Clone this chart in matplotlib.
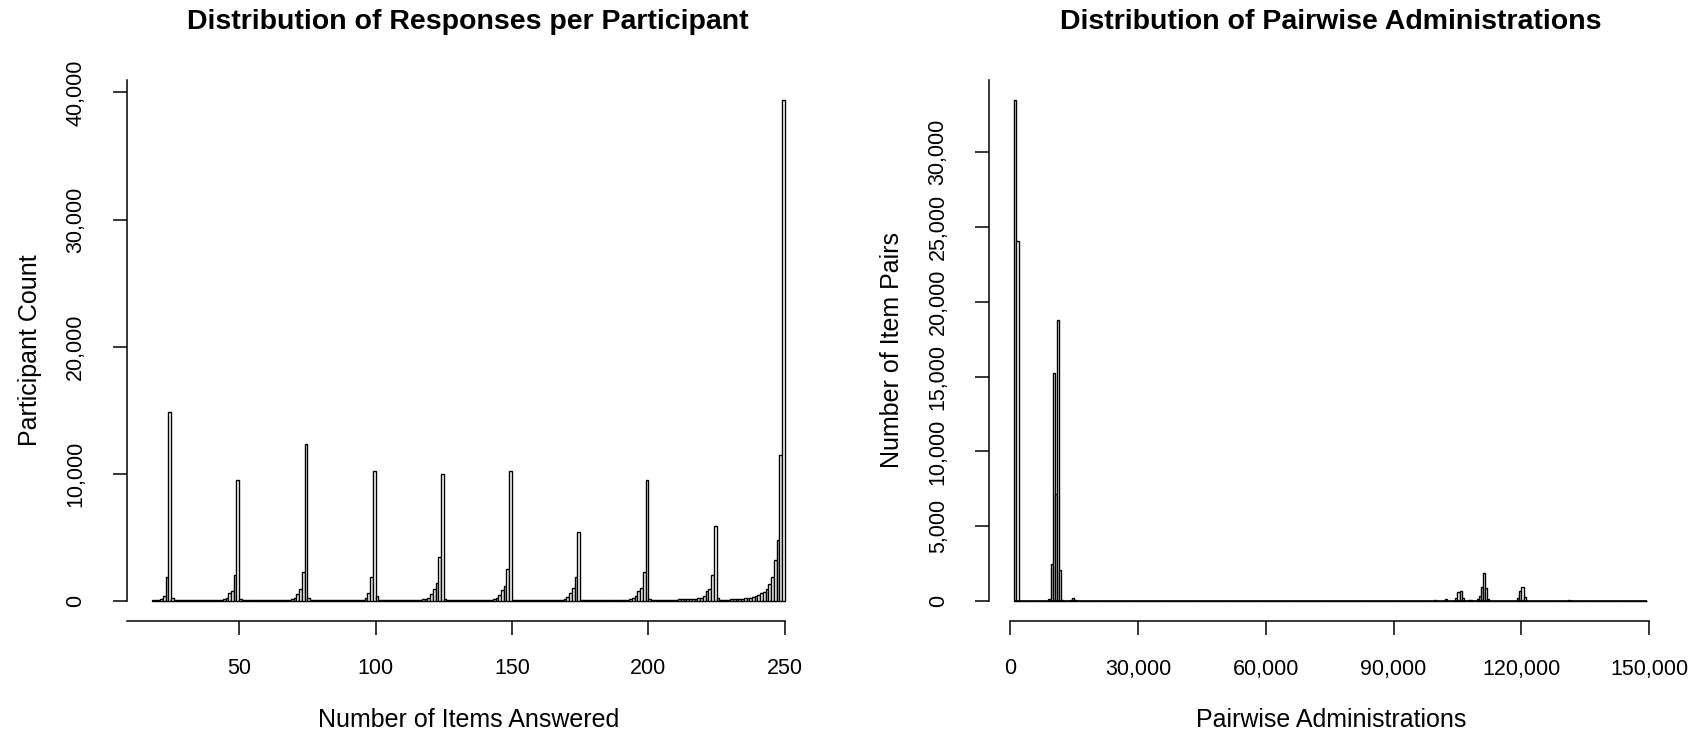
import numpy as np
import matplotlib
matplotlib.use("Agg")
import matplotlib.pyplot as plt

plt.rcParams["font.family"] = ["Liberation Sans", "DejaVu Sans"]

# ---- responses per participant: count of participants for each number of items answered
items_answered = list(range(19, 251))
participant_counts = [
    40, 60, 90, 130, 400, 1900, 14850,
    200, 80, 60, 55, 50, 50, 45, 45, 50, 50, 50, 55, 55, 60, 60, 65, 70, 80, 100, 180, 260, 650, 780, 2050, 9550,
    120, 70, 55, 50, 45, 45, 45, 50, 50, 50, 55, 55, 60, 60, 65, 70, 75, 85, 100, 130, 260, 520, 910, 2300, 12350,
    200, 80, 60, 55, 50, 50, 50, 50, 50, 55, 55, 60, 60, 65, 70, 75, 80, 85, 90, 100, 110, 260, 600, 1850, 10250,
    400, 100, 70, 60, 60, 60, 65, 65, 70, 70, 75, 80, 85, 90, 95, 100, 110, 130, 180, 260, 520, 910, 1430, 3450, 9950,
    150, 80, 60, 55, 55, 55, 55, 60, 60, 60, 65, 65, 70, 70, 75, 80, 85, 90, 130, 260, 470, 830, 1140, 2550, 10200,
    80, 60, 55, 50, 50, 50, 50, 55, 55, 60, 60, 65, 65, 70, 75, 80, 90, 100, 110, 130, 290, 650, 990, 1900, 5400,
    80, 60, 55, 50, 50, 50, 55, 55, 60, 60, 65, 70, 75, 80, 85, 90, 100, 110, 150, 200, 390, 780, 1040, 2300, 9500,
    130, 80, 70, 70, 75, 80, 85, 90, 100, 110, 110, 120, 130, 140, 150, 160, 170, 180, 200, 240, 390, 780, 940, 2050, 5900,
    260, 100, 90, 100, 110, 120, 130, 140, 160, 180, 200, 230, 260, 310, 390, 440, 600, 730, 940, 1300, 1900, 3200, 4800, 11500, 39400,
]

# ---- pairwise administrations: histogram bins (width 500) with non-zero counts
pair_bin_width = 500
pair_range = (1000, 149500)
pair_bin_starts = [
    1000, 1500,
    9000, 9500, 10000, 10500, 11000, 11500, 12000,
    14000, 14500, 15000,
    99500, 100000, 102000,
    104500, 105000, 105500, 106000,
    107500, 108000,
    109500, 110000, 110500, 111000, 111500, 112000,
    119000, 119500, 120000, 120500,
    131000, 148000,
]
pair_counts = [
    33500, 24100,
    150, 2450, 15250, 7150, 18800, 2050, 60,
    90, 190, 60,
    40, 30, 110,
    220, 620, 680, 180,
    80, 60,
    120, 340, 960, 1900, 900, 150,
    200, 650, 950, 250,
    40, 30,
]

left_ticks = [50, 100, 150, 200, 250]
left_yticks = [0, 10000, 20000, 30000, 40000]
right_ticks = [0, 30000, 60000, 90000, 120000, 150000]
right_yticks = [0, 5000, 10000, 15000, 20000, 25000, 30000]

W, H = 1703, 740
fig = plt.figure(figsize=(W / 100, H / 100), dpi=100)
fig.patch.set_facecolor("white")

ax_h = 541 / H
ax_b = 1 - 621 / H
ax_w = 683.4 / W
ax1 = fig.add_axes([126.6 / W, ax_b, ax_w, ax_h])
ax2 = fig.add_axes([989.0 / W, ax_b, ax_w, ax_h])

bar_kw = dict(facecolor="white", edgecolor="black", linewidth=1.0, align="edge")

# left histogram
x1 = np.array(items_answered)
y1 = np.array(participant_counts)
ax1.bar(x1 - 1, y1, width=1, **bar_kw)
lo, hi = x1.min() - 1, x1.max()
pad = 0.04 * (hi - lo)
ax1.set_xlim(lo - pad, hi + pad)
ytop = 0.04 * y1.max()
ax1.set_ylim(-ytop, y1.max() + ytop)

# right histogram
edges = np.arange(pair_range[0], pair_range[1], pair_bin_width)
lookup = dict(zip(pair_bin_starts, pair_counts))
y2 = np.array([lookup.get(int(e), 0) for e in edges])
ax2.bar(edges, y2, width=pair_bin_width, **bar_kw)
ax2.hlines(0, pair_range[0], pair_range[1], color="black", linewidth=1.2)
pad2 = 0.04 * (pair_range[1] - pair_range[0])
ax2.set_xlim(pair_range[0] - pad2, pair_range[1] + pad2)
ytop2 = 0.04 * y2.max()
ax2.set_ylim(-ytop2, y2.max() + ytop2)


def fmt(v):
    return f"{v:,}"


def style(ax, xt, yt, xbounds, title, xlabel, ylabel):
    for s in ("top", "right"):
        ax.spines[s].set_visible(False)
    for s in ("left", "bottom"):
        ax.spines[s].set_linewidth(1.1)
    ax.spines["bottom"].set_bounds(*xbounds)
    ax.spines["left"].set_bounds(0, ax.get_ylim()[1])
    ax.set_xticks(xt)
    ax.set_xticklabels([fmt(v) for v in xt])
    ax.set_yticks(yt)
    ax.set_yticklabels([fmt(v) for v in yt], rotation=90, va="center")
    ax.tick_params(axis="both", direction="out", length=10, width=1.1,
                   labelsize=15.5, color="black")
    ax.tick_params(axis="x", pad=17)
    ax.tick_params(axis="y", pad=19)
    ax.set_xlabel(xlabel, fontsize=18)
    ax.set_ylabel(ylabel, fontsize=18)
    ax.xaxis.set_label_coords(0.5, (621 - 720) / 541)
    ax.xaxis.label.set_va("center")
    ax.yaxis.set_label_coords(-97 / 683.4, 0.5)
    ax.yaxis.label.set_va("center")
    ax.text(0.5, (621 - 22) / 541, title, transform=ax.transAxes,
            ha="center", va="center", fontsize=20.5, fontweight="bold")


style(ax1, left_ticks, left_yticks, (ax1.get_xlim()[0], 250),
      "Distribution of Responses per Participant",
      "Number of Items Answered", "Participant Count")
style(ax2, right_ticks, right_yticks, (0, 150000),
      "Distribution of Pairwise Administrations",
      "Pairwise Administrations", "Number of Item Pairs")

fig.savefig("out.png", dpi=100, facecolor="white")
